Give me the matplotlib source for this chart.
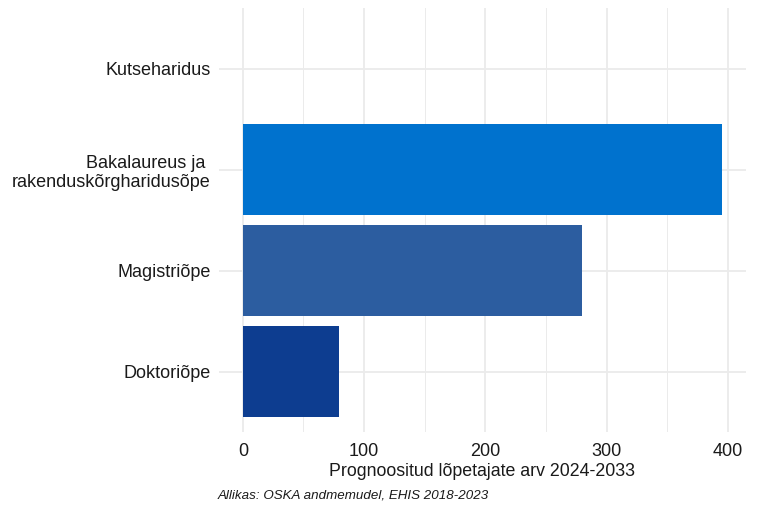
import matplotlib
matplotlib.use("Agg")
import matplotlib.pyplot as plt
from matplotlib.ticker import MultipleLocator

# data, top to bottom
categories = ["Kutseharidus", "Bakalaureus ja \nrakenduskõrgharidusõpe", "Magistriõpe", "Doktoriõpe"]
values = [0, 395, 280, 79]
colors = ["#0072CE", "#0072CE", "#2C5DA0", "#0D3D90"]

x_ticks = [0, 100, 200, 300, 400]
x_label = "Prognoositud lõpetajate arv 2024-2033"
caption = "Allikas: OSKA andmemudel, EHIS 2018-2023"

plt.rcParams["font.family"] = ["Liberation Sans", "DejaVu Sans"]

fig = plt.figure(figsize=(7.68, 5.12), dpi=100)
ax = fig.add_axes([0.285, 0.156, 0.686, 0.828])

ypos = list(range(len(categories)))
ax.barh(ypos, values, height=0.9, color=colors, zorder=3)

# ggplot-like expansion
vmax = max(values)
ax.set_xlim(-0.05 * vmax, vmax * 1.05)
ax.set_ylim(len(categories) - 1 + 0.6, -0.6)

ax.set_xticks(x_ticks)
ax.xaxis.set_minor_locator(MultipleLocator(50))
ax.set_yticks(ypos)
ax.set_yticklabels(categories, fontsize=13, color="#1a1a1a")
ax.tick_params(axis="x", labelsize=13, labelcolor="#1a1a1a", pad=8)
ax.tick_params(axis="y", pad=6)
ax.tick_params(which="both", length=0)

ax.grid(which="major", color="#EBEBEB", linewidth=1.3, zorder=0)
ax.grid(which="minor", axis="x", color="#EBEBEB", linewidth=0.7, zorder=0)
for s in ax.spines.values():
    s.set_visible(False)

ax.set_xlabel(x_label, fontsize=12.8, color="#1a1a1a", labelpad=2)
fig.text(0.284, 0.027, caption, fontsize=9.6, style="italic", color="#1a1a1a", ha="left")

fig.savefig("out.png", dpi=100)
